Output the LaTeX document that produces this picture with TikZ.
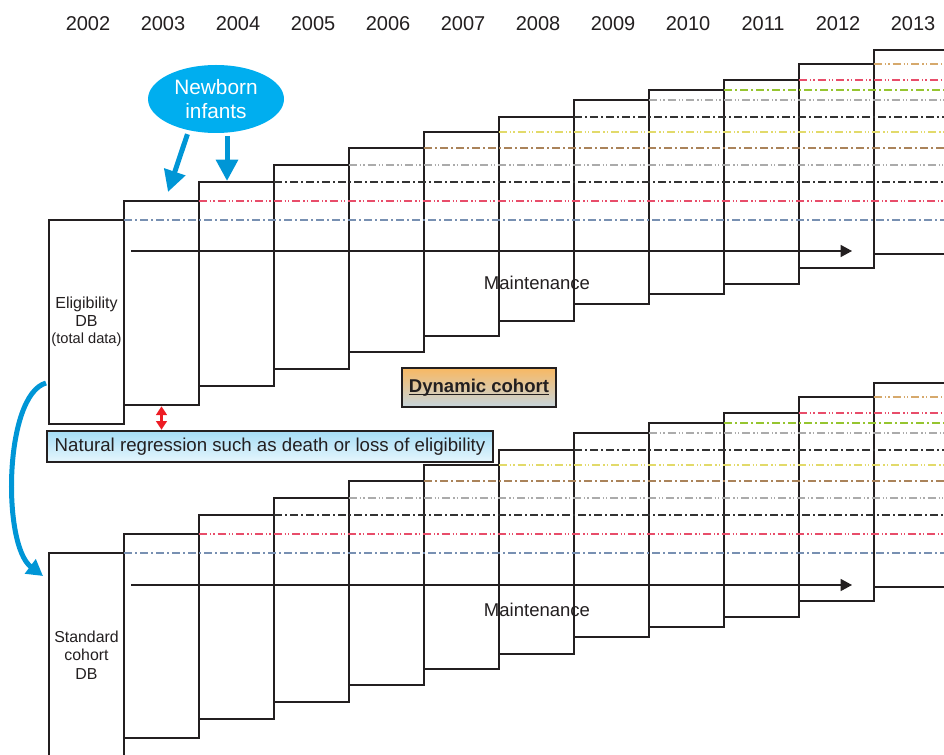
\documentclass[tikz,border=0pt]{standalone}
\usepackage{fontspec}
\setmainfont{Liberation Sans}
\usetikzlibrary{shapes.geometric,arrows.meta}
\usepackage{xcolor}
\definecolor{inkgray}{HTML}{231F20}
\definecolor{babyblue}{HTML}{00AEEF}
\definecolor{arrowblue}{HTML}{0096D6}
\definecolor{alertred}{HTML}{ED1C24}
\definecolor{lineblue}{HTML}{7890B2}
\definecolor{linered}{HTML}{E84D6A}
\definecolor{lineblack}{HTML}{333333}
\definecolor{linegray}{HTML}{ABABAB}
\definecolor{linebrown}{HTML}{AA835A}
\definecolor{lineyellow}{HTML}{E2DA6A}
\definecolor{linegreen}{HTML}{96C530}
\definecolor{linetan}{HTML}{D6A96C}
\definecolor{softsky}{HTML}{A5DDF5}
\definecolor{palesky}{HTML}{E6F6FD}
\definecolor{softorange}{HTML}{F8B862}
\definecolor{softslate}{HTML}{C7D6DE}

\begin{document}
\begin{tikzpicture}[x=0.75pt,y=-0.75pt,
  yrbox/.style={draw=inkgray,line width=1.1pt,fill=white,anchor=north west,outer sep=0pt,inner sep=0pt,minimum width=56.25pt,minimum height=153pt},
  yrlabel/.style={font=\fontsize{15}{18}\selectfont,text=inkgray},
  dashdot/.style={line width=1.05pt,dash pattern=on 6pt off 2.5pt on 1pt off 2.5pt},
  dashdotdot/.style={line width=1.05pt,dash pattern=on 6pt off 2.2pt on 1pt off 1.6pt on 1pt off 2.2pt},
  timeline/.style={draw=inkgray,line width=1pt,-{Triangle[length=8.5pt,width=9pt]}},
  bluearrow/.style={draw=arrowblue,line width=3.75pt,-{Triangle[length=16pt,width=16pt]}},
  maintxt/.style={font=\fontsize{13.9}{16}\selectfont,text=inkgray}]
\useasboundingbox (0,0) rectangle (944,755);
\clip (0,0) rectangle (944,755);
\coordinate (edge) at (944,0);
\foreach \yr/\ytop [count=\i from 0] in {2002/220,2003/201,2004/182,2005/165,2006/148,2007/132,2008/117,2009/100,2010/90,2011/80,2012/64,2013/50}{
  \node[yrlabel] (lbl\yr) at (88+75*\i,24) {\yr};
  \node[yrbox] (t\yr) at (49+75*\i,\ytop) {};
  \node[yrbox] (b\yr) at (49+75*\i,\ytop+333) {};
}
\foreach \yr/\col/\pat in {2002/lineblue/dashdot,2003/linered/dashdotdot,2004/lineblack/dashdot,2005/linegray/dashdotdot,2006/linebrown/dashdot,2007/lineyellow/dashdotdot,2008/lineblack/dashdot,2009/linegray/dashdotdot,2010/linegreen/dashdot,2011/linered/dashdotdot,2012/linetan/dashdotdot}{
  \draw[\pat,draw=\col] (t\yr.north east) -- (t\yr.north east -| edge);
  \draw[\pat,draw=\col] (b\yr.north east) -- (b\yr.north east -| edge);
}
\coordinate (tmA) at (131,251);
\coordinate (tmB) at (852,251);
\coordinate (bmA) at (131,585);
\coordinate (bmB) at (852,585);
\draw[timeline] (tmA) -- (tmB);
\draw[timeline] (bmA) -- (bmB);
\node[maintxt] (tmaint) at (537,283) {Maintenance};
\node[maintxt] (bmaint) at (537,610) {Maintenance};
\node[align=center,text=inkgray,font=\fontsize{12}{13.1}\selectfont] (eligtxt) at (t2002.center) {Eligibility\\DB\\{\fontsize{11}{13.1}\selectfont (total data)}};
\node[align=center,text=inkgray,font=\fontsize{11.9}{13.9}\selectfont] (stdtxt) at (b2002.center) {Standard\\cohort\\DB};
\node[ellipse,fill=babyblue,minimum width=102pt,minimum height=51pt,inner sep=0pt,text=white,align=center,font=\fontsize{15.6}{18}\selectfont] (newborn) at (216,99) {Newborn\\infants};
\coordinate (nbA) at (168,192);
\coordinate (nbB) at (227,181);
\draw[bluearrow,shorten <=3pt] (newborn.229) -- (nbA);
\draw[bluearrow,shorten <=2pt] (nbB |- newborn.south) -- (nbB);
\node[draw=inkgray,line width=0.9pt,top color=softsky,bottom color=palesky,minimum width=334.5pt,minimum height=23.25pt,inner sep=0pt,font=\fontsize{14}{16}\selectfont,text=inkgray] (natreg) at (270,446.5) {Natural regression such as death or loss of eligibility};
\draw[draw=alertred,line width=1.6pt,{Triangle[length=6.5pt,width=8pt]}-{Triangle[length=6.5pt,width=8pt]},shorten <=1pt,shorten >=0.5pt] (t2003.south) -- (t2003.south |- natreg.north);
\node[draw=inkgray,line width=1pt,top color=softorange,bottom color=softslate,minimum width=115.5pt,minimum height=29.25pt,inner sep=0pt,font=\bfseries\fontsize{13.9}{16}\selectfont,text=inkgray] (dyn) at (479,387.5) {\underline{\vphantom{D}\smash{Dynamic cohort}}};
\coordinate (cvA) at (46,383);
\coordinate (cvB) at (43,576);
\draw[draw=arrowblue,line width=3.75pt,-{Triangle[length=12pt,width=13pt]}] (cvA) .. controls (4,395) and (2,545) .. (cvB);
\end{tikzpicture}
\end{document}
